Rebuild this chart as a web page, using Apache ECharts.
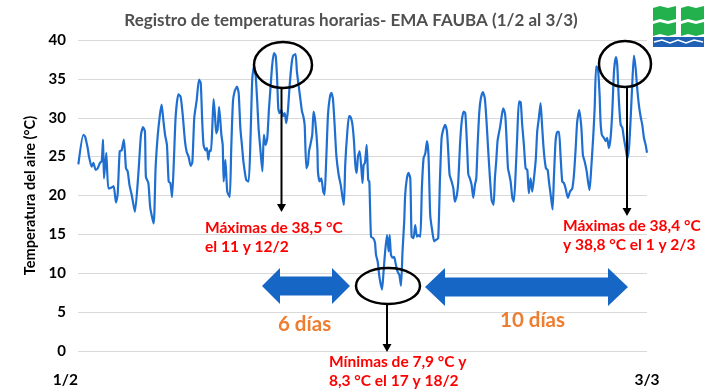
<!DOCTYPE html>
<html>
<head>
<meta charset="utf-8">
<script src="https://cdn.jsdelivr.net/npm/echarts@6/dist/echarts.min.js"></script>
<style>html,body{margin:0;padding:0;background:#fff;}#c{width:709px;height:389px;}</style>
</head>
<body>
<div id="c"></div>
<script>
// Hourly air temperature readings: [days since 1/2 00:00, °C]
const readings = [
[0.02,24.0],[0.28,27.8],[0.37,27.6],[0.51,26.1],[0.58,25.0],[0.72,23.7],[0.81,24.2],[0.93,23.3],[1.04,23.5],[1.16,24.2],[1.25,24.4],[1.32,27.2],[1.37,22.2],[1.49,25.5],[1.60,20.9],[1.74,21.0],[1.88,21.2],[2.00,19.1],[2.09,20.1],[2.20,25.7],[2.30,25.8],[2.42,27.2],[2.53,23.5],[2.62,23.1],[2.71,21.4],[2.83,20.1],[3.00,17.9],[3.18,22.7],[3.32,27.8],[3.43,28.8],[3.53,28.2],[3.58,22.4],[3.71,21.6],[3.81,18.4],[3.99,16.4],[4.09,23.5],[4.20,27.6],[4.32,30.4],[4.41,31.7],[4.50,29.7],[4.59,27.8],[4.69,26.5],[4.78,21.8],[4.87,21.6],[4.96,19.8],[5.06,24.8],[5.15,30.2],[5.29,33.0],[5.41,32.7],[5.52,30.4],[5.64,27.0],[5.73,25.6],[5.83,25.0],[5.94,23.8],[6.03,24.3],[6.13,30.0],[6.26,32.3],[6.38,34.9],[6.47,34.5],[6.55,29.5],[6.62,26.5],[6.73,25.8],[6.80,26.1],[6.87,24.6],[6.94,25.8],[7.01,25.7],[7.08,28.7],[7.15,32.4],[7.22,30.4],[7.29,28.0],[7.36,28.5],[7.44,31.4],[7.56,27.8],[7.63,26.5],[7.68,21.8],[7.77,24.6],[7.87,20.5],[8.00,19.8],[8.08,26.1],[8.17,32.1],[8.26,33.4],[8.38,34.0],[8.47,33.2],[8.56,28.7],[8.65,26.3],[8.73,24.2],[8.87,22.0],[9.00,21.8],[9.10,27.8],[9.19,35.1],[9.28,36.6],[9.37,35.3],[9.45,32.1],[9.52,28.7],[9.61,26.1],[9.72,23.1],[9.80,27.8],[9.89,26.5],[9.98,27.4],[10.07,31.2],[10.16,34.2],[10.24,36.8],[10.33,38.3],[10.42,38.0],[10.49,35.5],[10.56,31.2],[10.63,30.6],[10.72,31.0],[10.81,30.2],[10.90,30.6],[10.98,29.3],[11.07,31.0],[11.16,34.2],[11.28,37.3],[11.35,38.0],[11.47,38.2],[11.54,36.0],[11.63,34.2],[11.72,32.5],[11.81,30.8],[11.88,30.2],[11.95,29.1],[12.04,23.5],[12.12,24.0],[12.18,25.7],[12.25,26.5],[12.35,27.8],[12.42,30.8],[12.51,29.5],[12.62,26.1],[12.65,23.1],[12.74,21.8],[12.83,22.2],[12.93,20.5],[13.00,20.1],[13.09,24.8],[13.18,30.4],[13.27,32.5],[13.36,33.2],[13.44,32.5],[13.53,29.1],[13.62,25.2],[13.74,22.7],[13.85,21.4],[13.95,19.7],[14.02,18.8],[14.09,24.0],[14.20,28.2],[14.29,30.2],[14.37,30.1],[14.46,29.3],[14.55,27.0],[14.62,24.0],[14.69,22.9],[14.76,25.0],[14.85,25.7],[14.94,23.5],[15.00,21.6],[15.06,23.9],[15.13,24.2],[15.22,26.5],[15.30,22.0],[15.36,21.8],[15.45,14.7],[15.57,14.5],[15.66,13.9],[15.71,12.4],[15.80,11.5],[15.90,9.4],[16.03,7.9],[16.11,10.2],[16.18,12.4],[16.29,14.9],[16.38,12.8],[16.43,14.9],[16.50,12.4],[16.59,12.0],[16.67,12.1],[16.76,11.1],[16.85,10.2],[16.94,9.8],[17.03,8.4],[17.11,12.8],[17.20,16.7],[17.25,20.1],[17.34,22.2],[17.43,22.9],[17.52,22.2],[17.59,14.7],[17.69,14.5],[17.78,16.2],[17.87,14.7],[17.96,14.9],[18.05,14.7],[18.13,20.9],[18.22,24.8],[18.31,25.4],[18.40,27.0],[18.48,25.2],[18.57,17.5],[18.68,15.4],[18.78,14.1],[18.87,14.3],[18.99,14.5],[19.08,21.8],[19.17,27.4],[19.26,28.5],[19.36,29.1],[19.45,28.3],[19.52,25.7],[19.59,22.7],[19.70,21.8],[19.79,20.9],[19.87,19.2],[19.98,20.1],[20.05,21.8],[20.14,26.5],[20.23,29.5],[20.33,30.8],[20.42,30.6],[20.51,26.5],[20.58,22.7],[20.66,22.2],[20.75,21.4],[20.84,19.7],[20.93,21.4],[21.00,22.2],[21.07,26.5],[21.16,30.8],[21.24,32.5],[21.35,33.3],[21.45,32.5],[21.54,29.5],[21.63,25.7],[21.72,22.2],[21.81,19.4],[21.91,18.8],[21.98,22.2],[22.05,24.4],[22.12,27.0],[22.19,28.0],[22.26,28.9],[22.35,30.4],[22.42,31.2],[22.51,30.6],[22.55,29.5],[22.61,26.5],[22.67,23.5],[22.74,22.7],[22.81,21.8],[22.90,19.7],[22.98,19.2],[23.07,22.7],[23.16,27.8],[23.25,32.1],[23.34,32.0],[23.42,29.1],[23.51,26.5],[23.60,23.5],[23.69,23.3],[23.77,20.3],[23.86,22.2],[23.95,20.5],[24.04,22.2],[24.14,24.8],[24.21,28.2],[24.30,30.0],[24.39,31.9],[24.46,29.3],[24.56,25.7],[24.67,23.5],[24.76,23.3],[24.83,21.8],[24.92,20.1],[25.02,18.2],[25.09,22.2],[25.18,27.0],[25.27,28.2],[25.36,28.2],[25.44,25.2],[25.53,21.8],[25.62,21.6],[25.71,20.9],[25.83,19.7],[25.94,20.5],[26.06,20.9],[26.15,22.7],[26.24,26.1],[26.32,29.5],[26.43,31.0],[26.54,28.7],[26.62,25.2],[26.71,24.4],[26.82,23.1],[26.89,21.8],[26.97,20.7],[27.06,23.5],[27.17,27.8],[27.24,31.2],[27.32,36.6],[27.41,36.4],[27.50,33.0],[27.55,29.5],[27.62,27.8],[27.73,27.4],[27.82,27.0],[27.90,27.4],[27.99,26.1],[28.08,27.4],[28.17,30.8],[28.26,36.0],[28.36,37.8],[28.43,36.8],[28.52,32.1],[28.61,29.1],[28.70,28.7],[28.78,27.4],[28.87,26.1],[28.96,24.8],[29.05,26.1],[29.13,29.5],[29.22,34.2],[29.31,38.0],[29.40,36.4],[29.49,33.6],[29.57,31.7],[29.66,30.2],[29.75,29.1],[29.84,27.4],[29.93,26.5],[30.00,25.5]
];
const xTickLabels = {0: '1/2', 30: '3/3'};
const yMin = 0, yMax = 40, yStep = 5;
const titleText = 'Registro de temperaturas horarias- EMA FAUBA (1/2 al 3/3)';
const yName = 'Temperatura del aire (°C)';

const F = 'Lato, "Open Sans", sans-serif';
const chart = echarts.init(document.getElementById('c'), null, {renderer: 'canvas'});

function dblArrow(x1, x2, cy, headLen, headHalf, shaftHalf) {
  return [[x1,cy],[x1+headLen,cy-headHalf],[x1+headLen,cy-shaftHalf],[x2-headLen,cy-shaftHalf],[x2-headLen,cy-headHalf],[x2,cy],[x2-headLen,cy+headHalf],[x2-headLen,cy+shaftHalf],[x1+headLen,cy+shaftHalf],[x1+headLen,cy+headHalf]];
}
function downArrow(x, y1, y2) {
  return [
    {type:'line', shape:{x1:x, y1:y1, x2:x, y2:y2-7}, style:{stroke:'#000', lineWidth:2}, z:10},
    {type:'polygon', shape:{points:[[x-4.5,y2-8],[x+4.5,y2-8],[x,y2]]}, style:{fill:'#000'}, z:10}
  ];
}
const blue = '#1666c5';
const red = '#ff0000';
const orange = '#ed7d31';
const green = '#22b14c';

const graphics = [
  // logo
  {type:'polygon', shape:{points:[[653,8],[660,6],[668,8],[676,6],[676,19],[668,21],[660,19],[653,21]]}, style:{fill:green}},
  {type:'polygon', shape:{points:[[681,8],[688,6],[696,8],[704,6],[704,19],[696,21],[688,19],[681,21]]}, style:{fill:green}},
  {type:'polygon', shape:{points:[[653,24],[660,22],[668,24],[676,22],[676,34],[668,36],[660,34],[653,36]]}, style:{fill:green}},
  {type:'polygon', shape:{points:[[681,24],[688,22],[696,24],[704,22],[704,34],[696,36],[688,34],[681,36]]}, style:{fill:green}},
  {type:'rect', shape:{x:653,y:37,width:51,height:10}, style:{fill:'#1f5fb4'}},
  {type:'polyline', shape:{points:[[654,42],[662,40],[670,43],[678,40],[686,43],[694,40],[703,42]]}, style:{stroke:'#fff', lineWidth:1.5, fill:null}},
  // ellipses
  {type:'ellipse', shape:{cx:283, cy:65, rx:29, ry:23}, style:{fill:null, stroke:'#000', lineWidth:2.5}, z:10},
  {type:'ellipse', shape:{cx:625, cy:64, rx:26, ry:23}, style:{fill:null, stroke:'#000', lineWidth:2.5}, z:10},
  {type:'ellipse', shape:{cx:388, cy:286, rx:32, ry:18}, style:{fill:null, stroke:'#000', lineWidth:2.5}, z:10},
  ...downArrow(281.5, 88, 212),
  ...downArrow(627, 87, 216),
  ...downArrow(387, 304, 352),
  // double arrows
  {type:'polygon', shape:{points:dblArrow(262, 350, 286, 18, 18, 9.5)}, style:{fill:blue}, z:10},
  {type:'polygon', shape:{points:dblArrow(425, 628, 287, 20, 19, 9.5)}, style:{fill:blue}, z:10},
  // texts
  {type:'text', left:205, top:218, style:{text:'Máximas de 38,5 °C\nel 11 y 12/2', fill:red, font:'bold 15.5px '+F, lineHeight:19}, z:10},
  {type:'text', left:563, top:216, style:{text:'Máximas de 38,4 °C\ny 38,8 °C el 1 y 2/3', fill:red, font:'bold 15.5px '+F, lineHeight:19}, z:10},
  {type:'text', left:329, top:352, style:{text:'Mínimas de 7,9 °C y\n8,3 °C el 17 y 18/2', fill:red, font:'bold 15.5px '+F, lineHeight:19}, z:10},
  {type:'text', left:278, top:314, style:{text:'6 días', fill:orange, font:'bold 20.5px '+F}, z:10},
  {type:'text', left:500, top:310, style:{text:'10 días', fill:orange, font:'bold 20.5px '+F}, z:10}
];

chart.setOption({
  animation: false,
  title: {text: titleText, left: 346, top: 7, textAlign: 'center',
    textStyle: {fontFamily: F, fontWeight: 'bold', fontSize: 17, color: '#505050'}},
  grid: {left: 78, right: 62, top: 40, bottom: 38},
  xAxis: {type: 'value', min: 0, max: 30, interval: 30,
    axisLine: {show: false}, axisTick: {show: false}, splitLine: {show: false},
    axisLabel: {margin: 21, fontFamily: F, fontWeight: 'bold', fontSize: 15.5, color: '#000',
      alignMinLabel: 'right', alignMaxLabel: 'center',
      formatter: v => xTickLabels[v] || ''}},
  yAxis: {type: 'value', min: yMin, max: yMax, interval: yStep,
    name: yName, nameLocation: 'middle', nameGap: 40, nameRotate: 90,
    nameTextStyle: {fontFamily: F, fontWeight: 'bold', fontSize: 14.5, color: '#000'},
    axisLine: {show: false}, axisTick: {show: false},
    splitLine: {lineStyle: {color: '#d9d9d9', width: 1}},
    axisLabel: {margin: 12, fontFamily: F, fontWeight: 'bold', fontSize: 15, color: '#000'}},
  series: [{type: 'line', data: readings, showSymbol: false, smooth: 0.2,
    lineStyle: {color: '#1f6fd0', width: 2.2}, z: 3}],
  graphic: graphics
});
</script>
</body>
</html>
